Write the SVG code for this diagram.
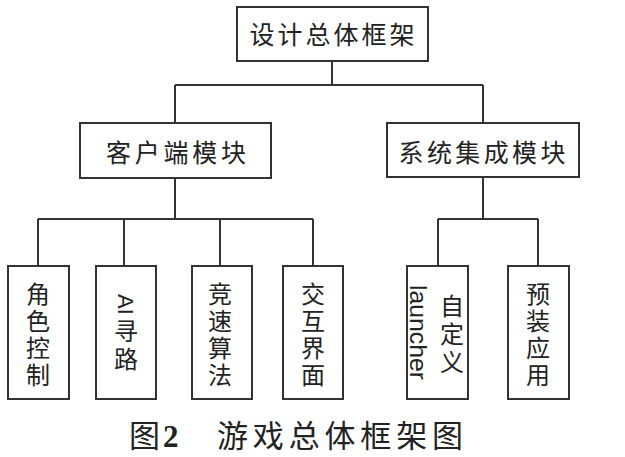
<svg xmlns="http://www.w3.org/2000/svg" width="625" height="457" viewBox="0 0 625 457">
<style>
.box{fill:#fff;stroke:#333;stroke-width:2}
.ln{stroke:#333;stroke-width:2;fill:none}
.t{font-family:"Noto Sans CJK SC","Liberation Sans",sans-serif;font-size:25px;fill:#222;text-anchor:middle;dominant-baseline:central}
.v{font-family:"Noto Sans CJK SC","Liberation Sans",sans-serif;font-size:24px;fill:#222;text-anchor:middle;dominant-baseline:central}
.lat{font-family:"Liberation Sans",Arial,sans-serif;fill:#222}
.cap{font-family:"Noto Sans CJK SC",sans-serif;font-size:31px;fill:#222}
</style>
<rect width="625" height="457" fill="#fff"/>
<g id="connectors">
<path class="ln" d="M332 61V85M175 85H483M175 85V123M483 85V123"/>
<path class="ln" d="M175 178V219M38 219H313M38 219V266M124 219V266M220 219V266M313 219V266"/>
<path class="ln" d="M483 177V219M438 219H538M438 219V266M538 219V266"/>
</g>
<g id="n-root">
<rect class="box" x="237" y="7" width="191" height="54"/>
<text class="t" x="332" y="33" textLength="165" lengthAdjust="spacing">设计总体框架</text>
</g>
<g id="n-client">
<rect class="box" x="80" y="123" width="191" height="55"/>
<text class="t" x="176" y="151" textLength="140" lengthAdjust="spacing">客户端模块</text>
</g>
<g id="n-system">
<rect class="box" x="387" y="123" width="192" height="54"/>
<text class="t" x="482" y="151" textLength="167" lengthAdjust="spacing">系统集成模块</text>
</g>
<g id="n-role">
<rect class="box" x="8" y="266" width="61" height="133"/>
<text class="v"><tspan x="38" y="292">角</tspan><tspan x="38" y="319">色</tspan><tspan x="38" y="346">控</tspan><tspan x="38" y="373">制</tspan></text>
</g>
<g id="n-ai">
<rect class="box" x="96" y="266" width="60" height="133"/>
<text class="lat" font-size="22" transform="translate(118 294) rotate(90)">AI</text>
<text class="v"><tspan x="126" y="329">寻</tspan><tspan x="126" y="357">路</tspan></text>
</g>
<g id="n-race">
<rect class="box" x="192" y="266" width="60" height="133"/>
<text class="v"><tspan x="220" y="292">竞</tspan><tspan x="220" y="319">速</tspan><tspan x="220" y="346">算</tspan><tspan x="220" y="373">法</tspan></text>
</g>
<g id="n-ui">
<rect class="box" x="283" y="266" width="60" height="133"/>
<text class="v"><tspan x="313" y="292">交</tspan><tspan x="313" y="319">互</tspan><tspan x="313" y="346">界</tspan><tspan x="313" y="373">面</tspan></text>
</g>
<g id="n-launcher">
<rect class="box" x="407" y="266" width="61" height="133"/>
<text class="v"><tspan x="452" y="304">自</tspan><tspan x="452" y="332">定</tspan><tspan x="452" y="360">义</tspan></text>
<text class="lat" font-size="24" textLength="95" lengthAdjust="spacingAndGlyphs" transform="translate(410 285) rotate(90)">launcher</text>
</g>
<g id="n-preinstall">
<rect class="box" x="508" y="266" width="61" height="133"/>
<text class="v"><tspan x="538" y="292">预</tspan><tspan x="538" y="319">装</tspan><tspan x="538" y="346">应</tspan><tspan x="538" y="373">用</tspan></text>
</g>
<g id="caption">
<text class="cap" x="129" y="447">图</text>
<text font-family="'Liberation Serif',serif" font-weight="bold" font-size="31" fill="#222" x="163" y="447">2</text>
<text class="cap" x="217" y="447" textLength="246" lengthAdjust="spacing">游戏总体框架图</text>
</g>
</svg>
